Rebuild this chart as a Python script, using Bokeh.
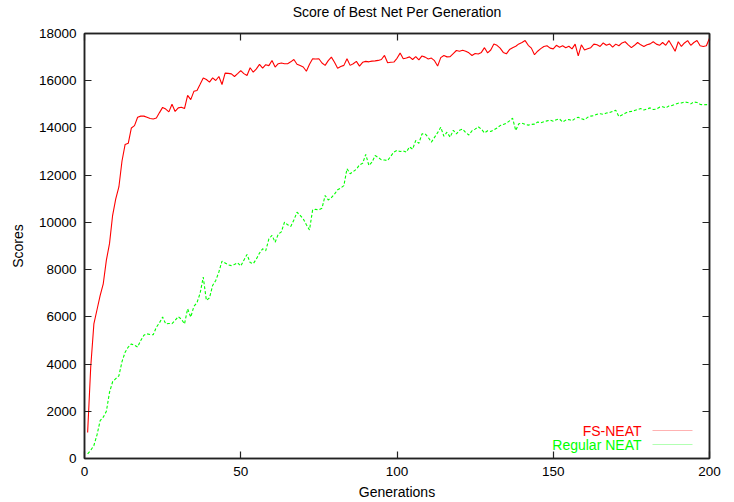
from bokeh.plotting import figure
from bokeh.models import (Range1d, FixedTicker, LinearAxis, Label, BoxAnnotation)
from bokeh.embed import file_html
from bokeh.resources import INLINE

title = "Score of Best Net Per Generation"
x_label = "Generations"
y_label = "Scores"
series_names = ["FS-NEAT", "Regular NEAT"]

generations = list(range(1, 201))

fs_neat = [
    1100, 3900, 5700, 6300, 6900, 7400, 8400, 9100, 10300, 11000,
    11500, 12600, 13300, 13350, 14000, 14100, 14450, 14500, 14500, 14450,
    14400, 14380, 14420, 14650, 14870, 14800, 14680, 15000, 14700, 14850,
    14880, 14820, 15380, 15200, 15550, 15590, 15850, 16120, 16050, 15940,
    16120, 16010, 16180, 15840, 16320, 16310, 16290, 16180, 16300, 16430,
    16300, 16220, 16550, 16360, 16500, 16690, 16530, 16680, 16640, 16860,
    16580, 16720, 16750, 16720, 16720, 16800, 16900, 16700, 16640, 16580,
    16400, 16700, 16930, 16920, 16930, 16750, 16650, 16850, 17000, 16780,
    16530, 16600, 16650, 16930, 16650, 16720, 16820, 16620, 16780, 16820,
    16800, 16830, 16840, 16860, 16900, 17070, 16760, 16780, 16790, 16950,
    17170, 16930, 16960, 17010, 16900, 17020, 16880, 17050, 17000, 16920,
    16960, 16850, 16620, 16980, 17070, 17010, 17020, 17150, 17280, 17250,
    17290, 17250, 17180, 17070, 17150, 17130, 17200, 17400, 17180, 17300,
    17560, 17500, 17380, 17200, 17140, 17320, 17400, 17460, 17560, 17620,
    17700, 17500, 17380, 17100, 17250, 17360, 17450, 17480, 17380, 17350,
    17500, 17420, 17480, 17400, 17460, 17350, 17550, 17050, 17520, 17300,
    17350, 17400, 17550, 17520, 17450, 17600, 17500, 17560, 17420, 17550,
    17480, 17600, 17650, 17520, 17400, 17500, 17620, 17520, 17450, 17520,
    17560, 17650, 17550, 17500, 17620, 17500, 17700, 17480, 17250, 17650,
    17450, 17600, 17700, 17500, 17620, 17700, 17480, 17450, 17480, 17800,
]

regular_neat = [
    200, 350, 550, 1000, 1600, 1750, 2000, 2800, 3250, 3380,
    3500, 4100, 4500, 4720, 4850, 4800, 4720, 5000, 5220, 5280,
    5250, 5240, 5560, 5750, 5990, 5700, 5720, 5710, 5850, 6010,
    5900, 5700, 6340, 5990, 6440, 6600, 7000, 7680, 6700, 6800,
    7330, 7540, 7900, 8360, 8280, 8200, 8170, 8220, 8290, 8150,
    8400, 8640, 8300, 8250, 8450, 8700, 8880, 8800, 9300, 9450,
    9160, 9500, 9600, 10010, 9900, 9830, 10100, 10430, 10300, 10150,
    9900, 9680, 10530, 10550, 10530, 10600, 11140, 10950, 11050, 11200,
    11380, 11450, 11560, 12270, 12060, 12150, 12250, 12440, 12500, 12880,
    12410, 12550, 12830, 12750, 12650, 12640, 12620, 12800, 12980, 13050,
    13000, 13030, 12975, 13200, 13100, 13470, 13350, 13750, 13750, 13600,
    13400, 13600, 13800, 14030, 13650, 13820, 13610, 13900, 13750, 13900,
    13950, 13800, 13700, 13880, 13950, 14050, 13950, 13790, 13880, 13850,
    13920, 14000, 14100, 14150, 14200, 14300, 14410, 13890, 14180, 14200,
    14150, 14120, 14150, 14160, 14250, 14220, 14260, 14300, 14330, 14280,
    14350, 14380, 14250, 14330, 14360, 14300, 14400, 14450, 14390, 14350,
    14450, 14500, 14520, 14580, 14600, 14580, 14630, 14650, 14700, 14750,
    14480, 14550, 14620, 14680, 14700, 14740, 14780, 14820, 14760, 14800,
    14850, 14780, 14800, 14880, 14900, 14850, 14930, 14950, 15000, 15050,
    15060, 15100, 15080, 15020, 15100, 15080, 15000, 14980, 14990, 14950,
]

x_ticks = [0, 50, 100, 150, 200]
y_ticks = [0, 2000, 4000, 6000, 8000, 10000, 12000, 14000, 16000, 18000]

FONT = "Liberation Sans"
RED = "#ff0000"
GREEN = "#00ff00"

p = figure(width=734, height=502, output_backend="svg", toolbar_location=None,
           title=None,
           x_range=Range1d(0, 200), y_range=Range1d(0, 18000),
           min_border_left=84, min_border_right=25, min_border_top=33,
           min_border_bottom=44)

p.background_fill_color = "white"
p.border_fill_color = "white"
p.outline_line_color = "#222222"
p.outline_line_width = 1.5
p.xgrid.visible = False
p.ygrid.visible = False

p.line(generations, fs_neat, line_color=RED, line_width=1.1)
p.line(generations, regular_neat, line_color=GREEN, line_width=1.1, line_dash="3 2")


def style_axis(ax, ticks, show_labels):
    ax.ticker = FixedTicker(ticks=ticks)
    ax.minor_tick_line_color = None
    ax.major_tick_in = 7
    ax.major_tick_out = 0
    ax.major_tick_line_color = "#222222"
    ax.major_tick_line_width = 1.2
    ax.axis_line_color = "#222222"
    ax.axis_line_width = 1.5
    ax.major_label_text_font = FONT
    ax.major_label_text_font_size = "13.5px"
    ax.major_label_text_color = "#000000"
    ax.major_label_standoff = 8
    ax.axis_label_text_font = FONT
    ax.axis_label_text_font_size = "14px"
    ax.axis_label_text_font_style = "normal"
    ax.axis_label_text_color = "#000000"
    if not show_labels:
        ax.major_label_text_font_size = "0px"
        ax.major_label_text_alpha = 0
        ax.major_label_standoff = 0


xa = p.xaxis[0]
ya = p.yaxis[0]
style_axis(xa, x_ticks, True)
style_axis(ya, y_ticks, True)
xa.axis_label = x_label
ya.axis_label = y_label
xa.axis_label_standoff = 5
ya.axis_label_standoff = 10

# mirrored top axis (ticks only) which also carries the chart title, centred over the frame
top_ax = LinearAxis()
style_axis(top_ax, x_ticks, False)
top_ax.axis_label = title
top_ax.axis_label_standoff = 14
p.add_layout(top_ax, "above")

right_ax = LinearAxis()
style_axis(right_ax, y_ticks, False)
p.add_layout(right_ax, "right")

# legend: text right-aligned, then line sample (gnuplot style)
legend_rows = [(series_names[0], RED, "solid", 28), (series_names[1], GREEN, "3 2", 14)]
for name, col, dash, yy in legend_rows:
    p.add_layout(Label(x=557, y=yy, x_units="screen", y_units="screen", text=name,
                       text_align="right", text_baseline="middle",
                       text_font=FONT, text_font_size="14px", text_color=col))
    p.add_layout(BoxAnnotation(left=568, right=608, bottom=yy, top=yy,
                               left_units="screen", right_units="screen",
                               bottom_units="screen", top_units="screen",
                               fill_alpha=0, line_color=col, line_width=1.1,
                               line_dash=dash))

open("out.html", "w").write(file_html(p, INLINE))
